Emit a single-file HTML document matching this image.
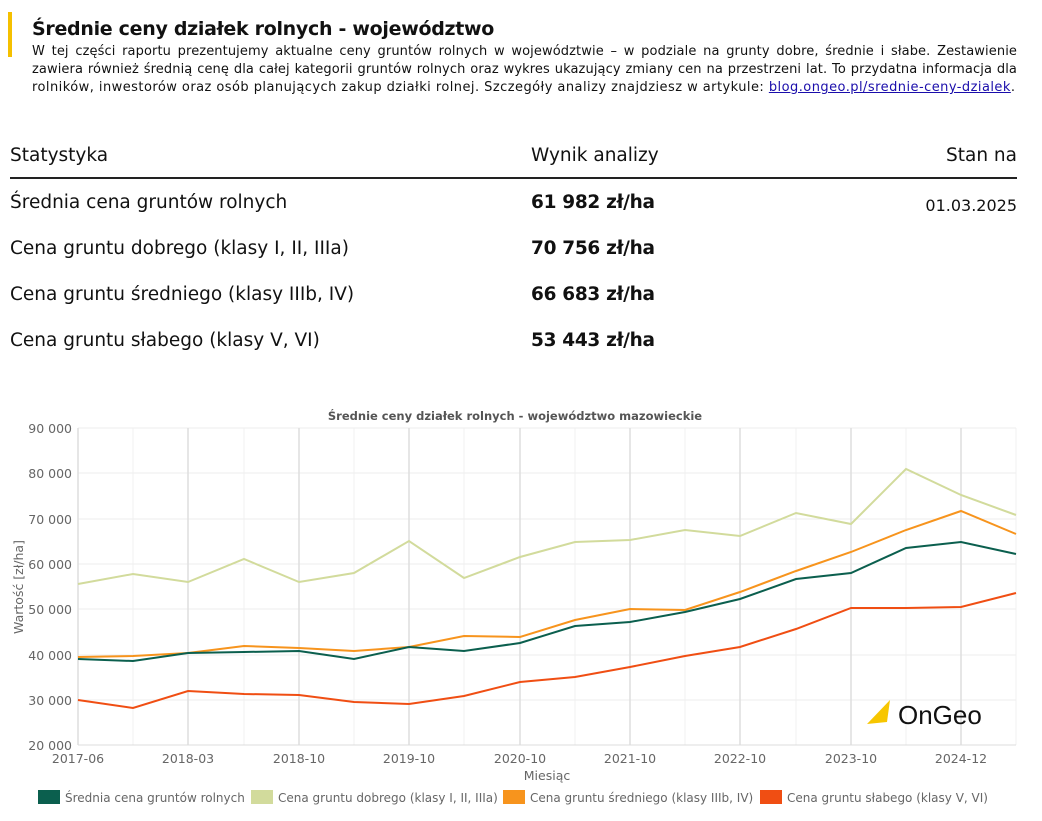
<!DOCTYPE html>
<html><head><meta charset="utf-8"><style>
body{margin:0;width:1042px;height:821px;background:#fff;font-family:"DejaVu Sans","Liberation Sans",sans-serif;color:#111;position:relative;overflow:hidden}
.bar{position:absolute;left:8px;top:12px;width:4px;height:45px;background:#f5c000}
h1{position:absolute;left:32px;top:18px;margin:0;font-size:19px;font-weight:bold;letter-spacing:-0.3px}
.p{position:absolute;left:32px;width:985px;margin:0;font-size:13px;line-height:18px;white-space:nowrap}
.j{text-align:justify;text-align-last:justify;white-space:normal;letter-spacing:0.1px}
a{color:#1a0dab;text-decoration:underline}
.t{position:absolute;font-size:18.5px}
.b{font-weight:bold;letter-spacing:-0.3px}
.line{position:absolute;left:10px;top:177px;width:1007px;height:2px;background:#222}
</style></head><body>
<div class="bar"></div>
<h1>Średnie ceny działek rolnych - województwo</h1>
<div class="p j" style="top:43px">W tej części raportu prezentujemy aktualne ceny gruntów rolnych w województwie – w podziale na grunty dobre, średnie i słabe. Zestawienie</div>
<div class="p j" style="top:61px">zawiera również średnią cenę dla całej kategorii gruntów rolnych oraz wykres ukazujący zmiany cen na przestrzeni lat. To przydatna informacja dla</div>
<div class="p" style="top:79px;letter-spacing:0.45px">rolników, inwestorów oraz osób planujących zakup działki rolnej. Szczegóły analizy znajdziesz w artykule: <a>blog.ongeo.pl/srednie-ceny-dzialek</a>.</div>
<div class="t" style="left:10px;top:145px">Statystyka</div>
<div class="t" style="left:531px;top:145px">Wynik analizy</div>
<div class="t" style="right:25px;top:145px">Stan na</div>
<div class="line"></div>
<div class="t" style="left:10px;top:192px">Średnia cena gruntów rolnych</div>
<div class="t b" style="left:531px;top:192px">61 982 zł/ha</div>
<div class="t" style="right:25px;top:196px;font-size:16px">01.03.2025</div>
<div class="t" style="left:10px;top:238px">Cena gruntu dobrego (klasy I, II, IIIa)</div>
<div class="t b" style="left:531px;top:238px">70 756 zł/ha</div>
<div class="t" style="left:10px;top:284px">Cena gruntu średniego (klasy IIIb, IV)</div>
<div class="t b" style="left:531px;top:284px">66 683 zł/ha</div>
<div class="t" style="left:10px;top:330px">Cena gruntu słabego (klasy V, VI)</div>
<div class="t b" style="left:531px;top:330px">53 443 zł/ha</div>
<svg width="1042" height="821" style="position:absolute;left:0;top:0" font-family="DejaVu Sans, sans-serif">
<text x="515" y="420" text-anchor="middle" font-size="11.5" font-weight="bold" fill="#555">Średnie ceny działek rolnych - województwo mazowieckie</text>
<g stroke="#eee" stroke-width="1">
<line x1="78" x2="1016" y1="428" y2="428"/><line x1="78" x2="1016" y1="473" y2="473"/><line x1="78" x2="1016" y1="519" y2="519"/><line x1="78" x2="1016" y1="564" y2="564"/><line x1="78" x2="1016" y1="609" y2="609"/><line x1="78" x2="1016" y1="655" y2="655"/><line x1="78" x2="1016" y1="700" y2="700"/>
</g>
<g stroke="#ddd" stroke-width="1.5">
<line x1="78" x2="78" y1="428" y2="745"/><line x1="188" x2="188" y1="428" y2="745"/><line x1="299" x2="299" y1="428" y2="745"/><line x1="409" x2="409" y1="428" y2="745"/><line x1="520" x2="520" y1="428" y2="745"/><line x1="630" x2="630" y1="428" y2="745"/><line x1="740" x2="740" y1="428" y2="745"/><line x1="851" x2="851" y1="428" y2="745"/><line x1="961" x2="961" y1="428" y2="745"/>
</g>
<g stroke="#f0f0f0" stroke-width="1">
<line x1="133" x2="133" y1="428" y2="745"/><line x1="244" x2="244" y1="428" y2="745"/><line x1="354" x2="354" y1="428" y2="745"/><line x1="464" x2="464" y1="428" y2="745"/><line x1="575" x2="575" y1="428" y2="745"/><line x1="685" x2="685" y1="428" y2="745"/><line x1="796" x2="796" y1="428" y2="745"/><line x1="906" x2="906" y1="428" y2="745"/><line x1="1016" x2="1016" y1="428" y2="745"/>
</g>
<line x1="78" x2="1016" y1="745" y2="745" stroke="#ddd"/>
<g font-size="12.5" fill="#666" text-anchor="end">
<text x="72" y="433">90 000</text><text x="72" y="478">80 000</text><text x="72" y="524">70 000</text><text x="72" y="569">60 000</text><text x="72" y="614">50 000</text><text x="72" y="660">40 000</text><text x="72" y="705">30 000</text><text x="72" y="750">20 000</text>
</g>
<g font-size="12.5" fill="#666" text-anchor="middle">
<text x="78" y="763">2017-06</text><text x="188" y="763">2018-03</text><text x="299" y="763">2018-10</text><text x="409" y="763">2019-10</text><text x="520" y="763">2020-10</text><text x="630" y="763">2021-10</text><text x="740" y="763">2022-10</text><text x="851" y="763">2023-10</text><text x="961" y="763">2024-12</text>
<text x="547" y="780">Miesiąc</text>
<text transform="translate(23,587) rotate(-90)">Wartość [zł/ha]</text>
</g>
<g fill="none" stroke-width="2">
<polyline stroke="#d2db9c" points="78,584 133,574 188,582 244,559 299,582 354,573 409,541 464,578 520,557 575,542 630,540 685,530 740,536 796,513 851,524 906,469 961,495 1016,515"/>
<polyline stroke="#f7941d" points="78,657 133,656 188,653 244,646 299,648 354,651 409,647 464,636 520,637 575,620 630,609 685,610 740,592 796,571 851,552 906,530 961,511 1016,534"/>
<polyline stroke="#0b5f4e" points="78,659 133,661 188,653 244,652 299,651 354,659 409,647 464,651 520,643 575,626 630,622 685,612 740,599 796,579 851,573 906,548 961,542 1016,554"/>
<polyline stroke="#f04e13" points="78,700 133,708 188,691 244,694 299,695 354,702 409,704 464,696 520,682 575,677 630,667 685,656 740,647 796,629 851,608 906,608 961,607 1016,593"/>
</g>
<polygon points="867,724 890,700 887,722" fill="#f7c600"/>
<text x="898" y="724" font-size="26" fill="#111" font-family="Liberation Sans, sans-serif">OnGeo</text>
<g font-size="12" fill="#666">
<rect x="38" y="790" width="22" height="14" fill="#0b5f4e"/><text x="65" y="802">Średnia cena gruntów rolnych</text>
<rect x="251" y="790" width="22" height="14" fill="#d2db9c"/><text x="278" y="802">Cena gruntu dobrego (klasy I, II, IIIa)</text>
<rect x="503" y="790" width="22" height="14" fill="#f7941d"/><text x="530" y="802">Cena gruntu średniego (klasy IIIb, IV)</text>
<rect x="760" y="790" width="22" height="14" fill="#f04e13"/><text x="787" y="802">Cena gruntu słabego (klasy V, VI)</text>
</g>
</svg>
</body></html>
